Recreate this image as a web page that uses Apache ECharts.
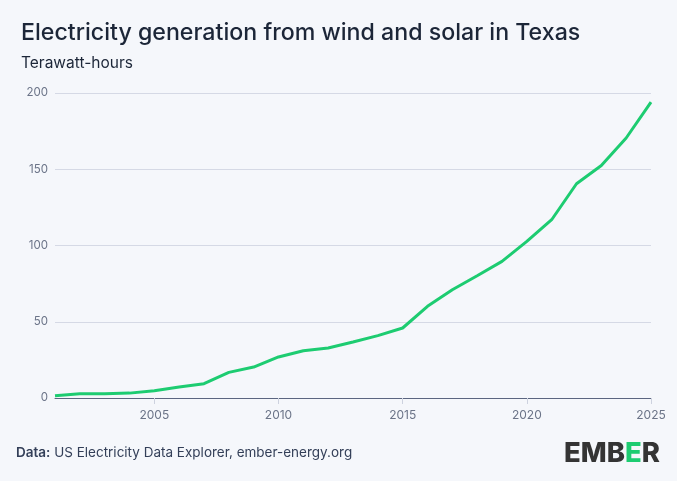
<!DOCTYPE html>
<html>
<head>
<meta charset="utf-8">
<script src="https://cdn.jsdelivr.net/npm/echarts@6/dist/echarts.min.js"></script>
<style>
  html, body { margin: 0; padding: 0; background: #f5f7fb; }
  #chart { width: 677px; height: 481px; }
</style>
</head>
<body>
<div id="chart"></div>
<script>
var years = ['2001', '2002', '2003', '2004', '2005', '2006', '2007', '2008', '2009', '2010',
    '2011', '2012', '2013', '2014', '2015', '2016', '2017', '2018', '2019', '2020',
    '2021', '2022', '2023', '2024', '2025'];
var windSolar = [1.5, 2.8, 2.8, 3.2, 4.8, 7.2, 9.4, 16.8, 20.3, 26.9,
    31.0, 32.8, 36.7, 40.9, 45.9, 60.1, 71.0, 80.2, 89.6, 102.7,
    116.9, 140.5, 152.5, 170.5, 194.0];
var yTicks = [0, 50, 100, 150, 200];

var font = 'Inter';
var showYear = function (index, value) {
    return Number(value) % 5 === 0;
};

var myChart = echarts.init(document.getElementById('chart'));
var option = {
    backgroundColor: '#f5f7fb',
    animation: false,
    textStyle: { fontFamily: font },
    title: [{
        text: 'Electricity generation from wind and solar in Texas',
        left: 16,
        top: 17,
        textStyle: { fontSize: 23.2, fontWeight: 500, color: '#1c2638', fontFamily: font }
    }, {
        text: 'Terawatt-hours',
        left: 16,
        top: 50,
        textStyle: { fontSize: 15.5, fontWeight: 400, color: '#1c2638', fontFamily: font }
    }],
    grid: {
        left: 55,
        right: 26,
        top: 93,
        bottom: 83
    },
    xAxis: {
        type: 'category',
        data: years,
        boundaryGap: false,
        axisLine: { lineStyle: { color: '#5b6580', width: 1 } },
        axisTick: {
            interval: showYear,
            length: 6,
            lineStyle: { color: '#cdd2df' }
        },
        axisLabel: {
            interval: showYear,
            color: '#6b7488',
            fontSize: 12,
            margin: 11
        }
    },
    yAxis: {
        type: 'value',
        min: yTicks[0],
        max: yTicks[yTicks.length - 1],
        interval: 50,
        axisLine: { show: false },
        axisTick: { show: false },
        splitLine: { lineStyle: { color: '#d5d9e5' } },
        axisLabel: {
            color: '#6b7488',
            fontSize: 11.5,
            margin: 7
        }
    },
    series: [{
        type: 'line',
        data: windSolar,
        showSymbol: false,
        lineStyle: { color: '#1dcc71', width: 3 },
        itemStyle: { color: '#1dcc71' }
    }],
    graphic: [{
        type: 'text',
        left: 16,
        top: 446,
        style: {
            text: '{b|Data:} US Electricity Data Explorer, ember-energy.org',
            rich: {
                b: { fontWeight: 600, fontSize: 13.5, fontFamily: font, fill: '#333f58' }
            },
            fontSize: 13.5,
            fontFamily: font,
            fill: '#333f58'
        }
    }, {
        type: 'text',
        right: 17,
        top: 440,
        style: {
            text: '{d|EMB}{g|E}{d|R}',
            rich: {
                d: { fontWeight: 800, fontSize: 27.5, fontFamily: font, fill: '#343434' },
                g: { fontWeight: 800, fontSize: 27.5, fontFamily: font, fill: '#1dcc71' }
            }
        }
    }]
};
myChart.setOption(option);
</script>
</body>
</html>
